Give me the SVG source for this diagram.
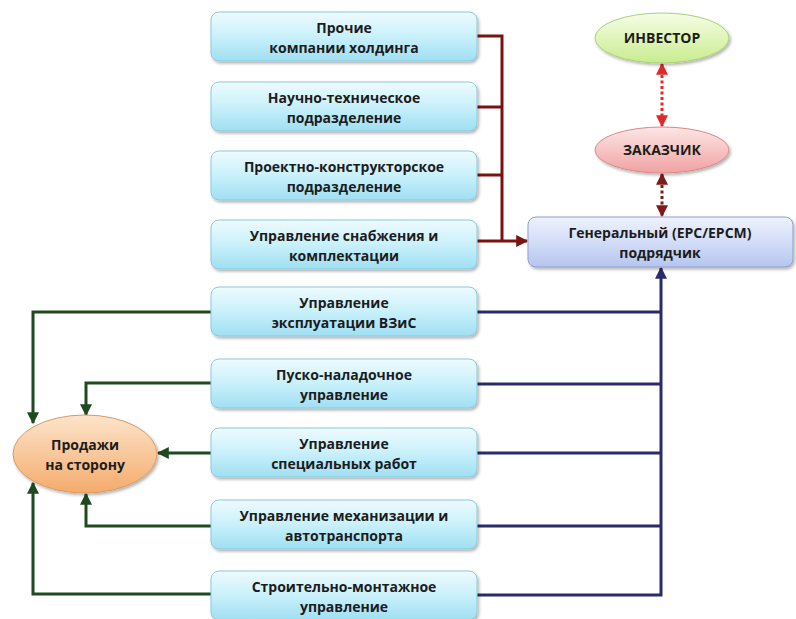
<svg xmlns="http://www.w3.org/2000/svg" width="796" height="619" viewBox="0 0 796 619">
  <style>
    .box { fill: url(#gBox); stroke: #8fc9dc; stroke-width: 1; filter: url(#shadow); }
    .gc { fill: url(#gGc); stroke: #8f9fca; stroke-width: 1; filter: url(#shadow); }
    .lbl { font-family: "Open Sans", "Liberation Sans", sans-serif; font-weight: bold; font-size: 14px; fill: #1c1c1c; text-anchor: middle; }
    .red { fill: none; stroke: #7a1212; stroke-width: 3; }
    .blue { fill: none; stroke: #2b2a6b; stroke-width: 3; }
    .green { fill: none; stroke: #1e4a1e; stroke-width: 3; }
    .dotA { fill: none; stroke: #e4262a; stroke-width: 3; stroke-dasharray: 3 2.5; }
    .dotB { fill: none; stroke: #7e1a1a; stroke-width: 3; stroke-dasharray: 3 2.5; }
  </style>
  <defs>
    <linearGradient id="gBox" x1="0" y1="0" x2="0" y2="1">
      <stop offset="0" stop-color="#eefbfe"/>
      <stop offset="0.5" stop-color="#c9f0fb"/>
      <stop offset="1" stop-color="#9fdff2"/>
    </linearGradient>
    <linearGradient id="gGc" x1="0" y1="0" x2="0" y2="1">
      <stop offset="0" stop-color="#eef2fd"/>
      <stop offset="0.5" stop-color="#d3ddf8"/>
      <stop offset="1" stop-color="#b4c5ef"/>
    </linearGradient>
    <linearGradient id="gInv" x1="0" y1="0" x2="0" y2="1">
      <stop offset="0" stop-color="#f6fde6"/>
      <stop offset="1" stop-color="#c9ec8e"/>
    </linearGradient>
    <linearGradient id="gCust" x1="0" y1="0" x2="0" y2="1">
      <stop offset="0" stop-color="#fde6e6"/>
      <stop offset="1" stop-color="#f0a2a2"/>
    </linearGradient>
    <linearGradient id="gSale" x1="0" y1="0" x2="0" y2="1">
      <stop offset="0" stop-color="#fde4cb"/>
      <stop offset="1" stop-color="#f4ab6c"/>
    </linearGradient>
    <filter id="shadow" x="-10%" y="-20%" width="120%" height="150%">
      <feDropShadow dx="1.5" dy="2" stdDeviation="1.5" flood-color="#000" flood-opacity="0.3"/>
    </filter>
    <marker id="mRed" viewBox="0 0 10 10" refX="9" refY="5" markerWidth="4.5" markerHeight="4" orient="auto" markerUnits="strokeWidth">
      <path d="M0,0 L10,5 L0,10 z" fill="#7a1212"/>
    </marker>
    <marker id="mBlue" viewBox="0 0 10 10" refX="9" refY="5" markerWidth="4.5" markerHeight="4" orient="auto" markerUnits="strokeWidth">
      <path d="M0,0 L10,5 L0,10 z" fill="#2b2a6b"/>
    </marker>
    <marker id="mGreen" viewBox="0 0 10 10" refX="9" refY="5" markerWidth="4.5" markerHeight="4" orient="auto" markerUnits="strokeWidth">
      <path d="M0,0 L10,5 L0,10 z" fill="#1e4a1e"/>
    </marker>
    <marker id="mDotA" viewBox="0 0 10 10" refX="9" refY="5" markerWidth="4" markerHeight="4" orient="auto-start-reverse" markerUnits="strokeWidth">
      <path d="M0,0 L10,5 L0,10 z" fill="#e4262a"/>
    </marker>
    <marker id="mDotB" viewBox="0 0 10 10" refX="9" refY="5" markerWidth="4" markerHeight="4" orient="auto-start-reverse" markerUnits="strokeWidth">
      <path d="M0,0 L10,5 L0,10 z" fill="#7e1a1a"/>
    </marker>
  </defs>

  <!-- connectors -->
  <g id="connectors">
    <!-- upper units to the general contractor -->
    <path class="red" d="M477,36 H502 V241"/>
    <path class="red" d="M477,107 H502"/>
    <path class="red" d="M477,175 H502"/>
    <path class="red" d="M477,241 H527" marker-end="url(#mRed)"/>
    <!-- lower units to the general contractor -->
    <path class="blue" d="M477,312 H661"/>
    <path class="blue" d="M477,384 H661"/>
    <path class="blue" d="M477,453 H661"/>
    <path class="blue" d="M477,526 H661"/>
    <path class="blue" d="M477,595 H661 V268" marker-end="url(#mBlue)"/>
    <!-- lower units to external sales -->
    <path class="green" d="M211,312 H33 V423" marker-end="url(#mGreen)"/>
    <path class="green" d="M211,383 H86 V415" marker-end="url(#mGreen)"/>
    <path class="green" d="M211,453 H158" marker-end="url(#mGreen)"/>
    <path class="green" d="M211,526 H86 V494" marker-end="url(#mGreen)"/>
    <path class="green" d="M211,594 H33 V483" marker-end="url(#mGreen)"/>
    <!-- investor / customer / contractor links -->
    <path class="dotA" d="M662,64 V126" marker-start="url(#mDotA)" marker-end="url(#mDotA)"/>
    <path class="dotB" d="M662,174 V216" marker-start="url(#mDotB)" marker-end="url(#mDotB)"/>
  </g>

  <g id="n-prochie">
    <rect class="box" x="211" y="12" width="266" height="49" rx="8"/>
    <text class="lbl" x="344" y="33">Прочие</text>
    <text class="lbl" x="344" y="53">компании холдинга</text>
  </g>
  <g id="n-nauchno">
    <rect class="box" x="211" y="82" width="266" height="49" rx="8"/>
    <text class="lbl" x="344" y="103">Научно-техническое</text>
    <text class="lbl" x="344" y="123">подразделение</text>
  </g>
  <g id="n-proektno">
    <rect class="box" x="211" y="151" width="266" height="49" rx="8"/>
    <text class="lbl" x="344" y="172">Проектно-конструкторское</text>
    <text class="lbl" x="344" y="192">подразделение</text>
  </g>
  <g id="n-snabzh">
    <rect class="box" x="211" y="220" width="266" height="49" rx="8"/>
    <text class="lbl" x="344" y="241">Управление снабжения и</text>
    <text class="lbl" x="344" y="261">комплектации</text>
  </g>
  <g id="n-ekspl">
    <rect class="box" x="211" y="287" width="266" height="49" rx="8"/>
    <text class="lbl" x="344" y="308">Управление</text>
    <text class="lbl" x="344" y="328">эксплуатации ВЗиС</text>
  </g>
  <g id="n-pusko">
    <rect class="box" x="211" y="359" width="266" height="49" rx="8"/>
    <text class="lbl" x="344" y="380">Пуско-наладочное</text>
    <text class="lbl" x="344" y="400">управление</text>
  </g>
  <g id="n-spec">
    <rect class="box" x="211" y="428" width="266" height="49" rx="8"/>
    <text class="lbl" x="344" y="449">Управление</text>
    <text class="lbl" x="344" y="469">специальных работ</text>
  </g>
  <g id="n-mekh">
    <rect class="box" x="211" y="500" width="266" height="49" rx="8"/>
    <text class="lbl" x="344" y="521">Управление механизации и</text>
    <text class="lbl" x="344" y="541">автотранспорта</text>
  </g>
  <g id="n-smu">
    <rect class="box" x="211" y="571" width="266" height="49" rx="8"/>
    <text class="lbl" x="344" y="592">Строительно-монтажное</text>
    <text class="lbl" x="344" y="612">управление</text>
  </g>

  <g id="n-gc">
    <rect class="gc" x="528" y="217" width="265" height="50" rx="8"/>
    <text class="lbl" x="660" y="238">Генеральный (EPC/EPCM)</text>
    <text class="lbl" x="660" y="258">подрядчик</text>
  </g>
  <g id="n-investor">
    <ellipse cx="662" cy="38" rx="67" ry="25" fill="url(#gInv)" stroke="#a9d07a" stroke-width="1" filter="url(#shadow)"/>
    <text class="lbl" x="662" y="43">ИНВЕСТОР</text>
  </g>
  <g id="n-zakazchik">
    <ellipse cx="662" cy="150" rx="67" ry="23" fill="url(#gCust)" stroke="#d88a8a" stroke-width="1" filter="url(#shadow)"/>
    <text class="lbl" x="662" y="155">ЗАКАЗЧИК</text>
  </g>
  <g id="n-sales">
    <ellipse cx="85" cy="454" rx="72" ry="39" fill="url(#gSale)" stroke="#d99a66" stroke-width="1" filter="url(#shadow)"/>
    <text class="lbl" x="85" y="450">Продажи</text>
    <text class="lbl" x="85" y="470">на сторону</text>
  </g>
</svg>
